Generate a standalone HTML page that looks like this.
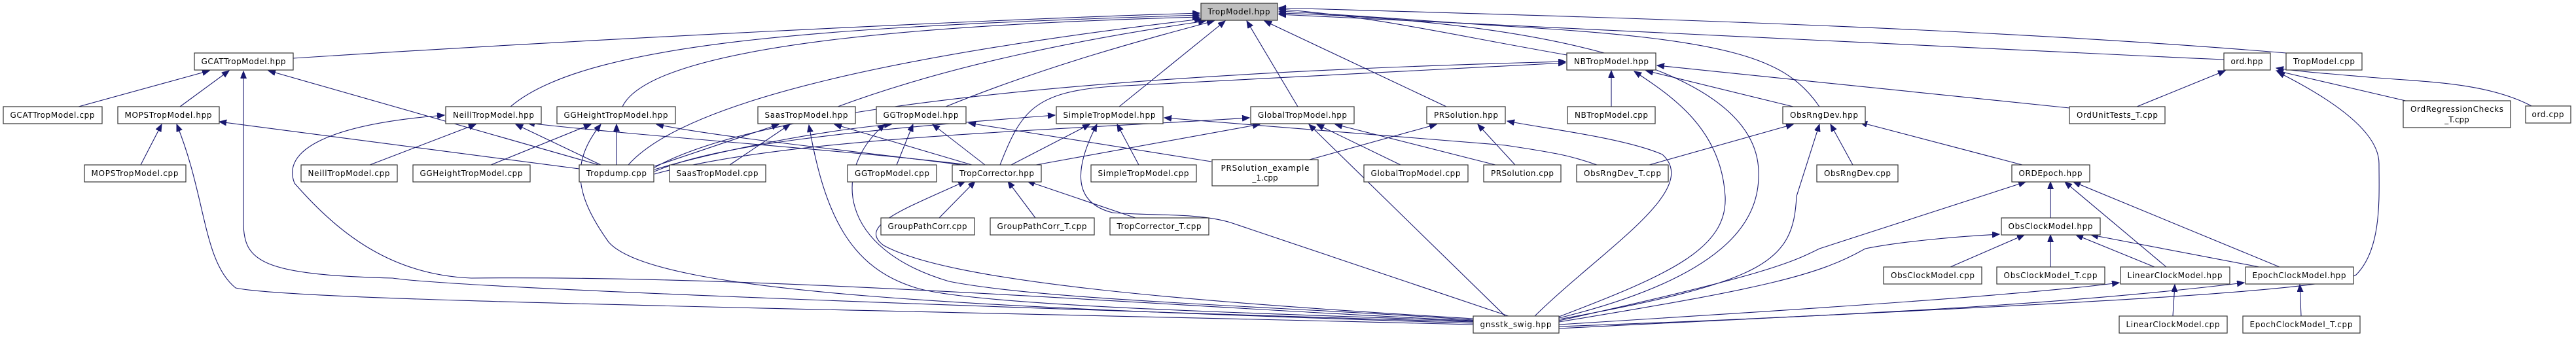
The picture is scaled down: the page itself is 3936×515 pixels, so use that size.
<!DOCTYPE html>
<html><head><meta charset="utf-8"><style>
html,body{margin:0;padding:0;background:#fff;}
svg{display:block;}
.n rect{fill:#fff;stroke:#333;stroke-width:1.2;}
.n text{font-family:"DejaVu Sans","Liberation Sans",sans-serif;font-size:12px;fill:#000;text-anchor:middle;}
.e path{fill:none;stroke:#191970;stroke-width:1.1;marker-end:url(#a);}
</style></head><body>
<svg width="3936" height="515" viewBox="0 0 3936 515" xmlns="http://www.w3.org/2000/svg">
<defs><marker id="a" markerUnits="userSpaceOnUse" markerWidth="12" markerHeight="10" refX="11" refY="4.5" orient="auto"><path d="M0,0 L11,4.5 L0,9 z" fill="#191970" stroke="#191970"/></marker></defs>
<g class="e">
<!-- to TropModel.hpp -->
<path d="M448,89 C900,60 1500,30 1833,20"/>
<path d="M780,163 C900,60 1300,40 1833,23"/>
<path d="M951,163 C1000,60 1500,35 1833,26"/>
<path d="M960,252 C1050,150 1400,80 1836,29"/>
<path d="M1280,163 C1450,100 1650,60 1842,32"/>
<path d="M1445,163 C1600,100 1750,60 1855,32"/>
<path d="M1710,163 L1872,32"/>
<path d="M1983,163 L1905,32"/>
<path d="M2210,163 L1932,32"/>
<path d="M2394,84 C2200,50 2100,25 1954,14"/>
<path d="M2780,163 C2730,90 2650,60 2300,40 C2150,30 2050,22 1954,17"/>
<path d="M2382,486 C2650,420 2690,330 2687,260 C2680,90 2300,30 1954,20"/>
<path d="M3398,91 C2900,70 2400,40 1954,22"/>
<path d="M3493,81 C3000,40 2400,25 1954,12"/>
<!-- GCAT.hpp -->
<path d="M120,163 L320,108"/>
<path d="M275,163 L350,108"/>
<path d="M915,252 L410,108"/>
<path d="M2251,492 C1500,470 700,440 600,425 C400,420 372,400 372,340 L372,109"/>
<!-- MOPS -->
<path d="M215,252 L247,190"/>
<path d="M885,258 L335,186"/>
<path d="M2251,496 C1200,470 450,460 360,440 C310,400 315,300 270,190"/>
<!-- Neill -->
<path d="M565,252 L727,190"/>
<path d="M918,252 L788,190"/>
<path d="M1480,252 C1300,230 1000,210 806,188"/>
<path d="M2251,490 C1800,470 1200,420 720,425 C600,420 520,360 450,280 C430,230 500,190 679,176"/>
<!-- GGHeight -->
<path d="M750,252 L903,190"/>
<path d="M942,252 L942,190"/>
<path d="M1470,252 C1300,230 1100,210 1003,190"/>
<path d="M2251,494 C1500,470 1000,450 930,370 C880,300 870,250 918,190"/>
<!-- Saas -->
<path d="M1115,252 L1207,190"/>
<path d="M1000,254 L1190,190"/>
<path d="M1485,252 L1275,190"/>
<path d="M2251,491 C2000,480 1500,470 1400,440 C1300,410 1260,330 1236,191"/>
<!-- GG -->
<path d="M1370,252 L1395,190"/>
<path d="M1000,259 C1100,230 1250,200 1362,190"/>
<path d="M1505,252 L1425,190"/>
<path d="M2251,489 C2000,470 1600,460 1450,430 C1280,380 1270,260 1352,190"/>
<path d="M1851,247 L1480,188"/>
<!-- Simple -->
<path d="M1740,252 L1707,190"/>
<path d="M1000,262 C1100,220 1300,200 1612,176"/>
<path d="M1545,252 L1665,190"/>
<path d="M2305,483 L1880,340 C1830,325 1760,330 1700,325 C1640,310 1640,260 1676,190"/>
<path d="M2440,252 C2400,238 2380,234 2300,222 L1779,180"/>
<!-- Global -->
<path d="M2140,252 L2012,190"/>
<path d="M1000,266 C1200,210 1600,200 1909,180"/>
<path d="M1583,252 L1925,190"/>
<path d="M2285,252 L2040,190"/>
<path d="M2300,483 L2000,190"/>
<!-- PRSolution.hpp -->
<path d="M1990,247 L2195,190"/>
<path d="M2315,252 L2258,190"/>
<path d="M2345,483 C2450,380 2600,290 2540,236 C2480,210 2350,195 2303,185"/>
<!-- NB -->
<path d="M2462,163 L2462,108"/>
<path d="M2740,163 L2515,108"/>
<path d="M3162,165 L2532,100"/>
<path d="M1000,256 C1100,200 1400,120 2392,94"/>
<path d="M1528,252 C1560,170 1580,140 1700,132 L2392,96"/>
<path d="M2382,484 C2550,420 2640,380 2636,300 C2630,200 2560,150 2497,109"/>
<!-- ObsRngDev -->
<path d="M2520,252 L2740,190"/>
<path d="M2831,252 L2797,190"/>
<path d="M3090,252 L2842,187"/>
<path d="M2382,488 C2700,430 2740,400 2745,300 L2780,190"/>
<!-- TropCorrector -->
<path d="M1435,333 L1490,277"/>
<path d="M1582,333 L1540,277"/>
<path d="M1735,333 L1570,277"/>
<path d="M2251,487 C1800,460 1450,430 1350,375 C1310,345 1380,320 1475,277"/>
<!-- ORDEpoch -->
<path d="M3133,333 L3133,278"/>
<path d="M3310,408 L3155,278"/>
<path d="M3483,408 L3168,278"/>
<path d="M2382,490 C2700,420 2740,400 2780,380 L3095,278"/>
<!-- ObsClockModel.hpp -->
<path d="M2980,408 L3093,359"/>
<path d="M3133,408 L3133,359"/>
<path d="M3292,408 L3172,359"/>
<path d="M3452,408 L3195,359"/>
<path d="M2382,492 C2700,440 2780,420 2850,380 C2900,370 2980,362 3055,358"/>
<!-- Linear/Epoch -->
<path d="M3320,483 L3323,435"/>
<path d="M2382,496 C2800,470 3100,450 3238,432"/>
<path d="M3516,483 L3514,435"/>
<path d="M2382,499 C2900,480 3200,460 3429,432"/>
<!-- ord.hpp -->
<path d="M3265,163 L3400,108"/>
<path d="M3680,155 L3478,108"/>
<path d="M3870,163 C3800,125 3700,125 3620,118 C3550,112 3500,108 3478,104"/>
<path d="M2382,502 C3000,470 3550,450 3600,420 C3640,380 3635,300 3635,250 C3635,200 3560,150 3480,110"/>
</g>
<g class="n">
<rect x="1835" y="5" width="117" height="26" style="fill:#bfbfbf"/><text x="1893" y="22" textLength="95">TropModel.hpp</text>
<rect x="297" y="81" width="151" height="26"/><text x="372" y="98" textLength="129">GCATTropModel.hpp</text>
<rect x="5" y="163" width="151" height="26"/><text x="80" y="180" textLength="129">GCATTropModel.cpp</text>
<rect x="180" y="163" width="155" height="26"/><text x="257" y="180" textLength="133">MOPSTropModel.hpp</text>
<rect x="129" y="252" width="155" height="26"/><text x="206" y="269" textLength="133">MOPSTropModel.cpp</text>
<rect x="681" y="163" width="146" height="26"/><text x="754" y="180" textLength="124">NeillTropModel.hpp</text>
<rect x="851" y="163" width="181" height="26"/><text x="941" y="180" textLength="159">GGHeightTropModel.hpp</text>
<rect x="460" y="252" width="147" height="26"/><text x="533" y="269" textLength="125">NeillTropModel.cpp</text>
<rect x="631" y="252" width="179" height="26"/><text x="720" y="269" textLength="157">GGHeightTropModel.cpp</text>
<rect x="885" y="252" width="114" height="26"/><text x="942" y="269" textLength="92">Tropdump.cpp</text>
<rect x="1158" y="163" width="149" height="26"/><text x="1232" y="180" textLength="127">SaasTropModel.hpp</text>
<rect x="1339" y="163" width="137" height="26"/><text x="1407" y="180" textLength="115">GGTropModel.hpp</text>
<rect x="1614" y="163" width="163" height="26"/><text x="1695" y="180" textLength="141">SimpleTropModel.hpp</text>
<rect x="1911" y="163" width="158" height="26"/><text x="1990" y="180" textLength="136">GlobalTropModel.hpp</text>
<rect x="1023" y="252" width="147" height="26"/><text x="1096" y="269" textLength="125">SaasTropModel.cpp</text>
<rect x="1295" y="252" width="136" height="26"/><text x="1363" y="269" textLength="114">GGTropModel.cpp</text>
<rect x="1455" y="252" width="136" height="26"/><text x="1523" y="269" textLength="114">TropCorrector.hpp</text>
<rect x="1667" y="252" width="161" height="26"/><text x="1747" y="269" textLength="139">SimpleTropModel.cpp</text>
<rect x="1852" y="244" width="162" height="40"/><text x="1933" y="261" textLength="135">PRSolution_example</text><text x="1933" y="276">_1.cpp</text>
<rect x="1346" y="333" width="143" height="26"/><text x="1417" y="350" textLength="121">GroupPathCorr.cpp</text>
<rect x="1513" y="333" width="159" height="26"/><text x="1592" y="350" textLength="137">GroupPathCorr_T.cpp</text>
<rect x="1696" y="333" width="151" height="26"/><text x="1771" y="350" textLength="129">TropCorrector_T.cpp</text>
<rect x="2394" y="81" width="136" height="26"/><text x="2462" y="98" textLength="114">NBTropModel.hpp</text>
<rect x="2180" y="163" width="120" height="26"/><text x="2240" y="180" textLength="98">PRSolution.hpp</text>
<rect x="2395" y="163" width="134" height="26"/><text x="2462" y="180" textLength="112">NBTropModel.cpp</text>
<rect x="2724" y="163" width="126" height="26"/><text x="2787" y="180" textLength="104">ObsRngDev.hpp</text>
<rect x="2084" y="252" width="159" height="26"/><text x="2163" y="269" textLength="137">GlobalTropModel.cpp</text>
<rect x="2267" y="252" width="118" height="26"/><text x="2326" y="269" textLength="96">PRSolution.cpp</text>
<rect x="2409" y="252" width="140" height="26"/><text x="2479" y="269" textLength="118">ObsRngDev_T.cpp</text>
<rect x="2776" y="252" width="124" height="26"/><text x="2838" y="269" textLength="102">ObsRngDev.cpp</text>
<rect x="2251" y="483" width="131" height="26"/><text x="2316" y="500" textLength="109">gnsstk_swig.hpp</text>
<rect x="2878" y="408" width="150" height="26"/><text x="2953" y="425" textLength="128">ObsClockModel.cpp</text>
<rect x="3398" y="81" width="71" height="26"/><text x="3433" y="98" textLength="49">ord.hpp</text>
<rect x="3493" y="81" width="116" height="26"/><text x="3551" y="98" textLength="94">TropModel.cpp</text>
<rect x="3162" y="163" width="146" height="26"/><text x="3235" y="180" textLength="124">OrdUnitTests_T.cpp</text>
<rect x="3672" y="154" width="164" height="41"/><text x="3754" y="171" textLength="142">OrdRegressionChecks</text><text x="3754" y="187">_T.cpp</text>
<rect x="3859" y="162" width="69" height="26"/><text x="3893" y="179" textLength="49">ord.cpp</text>
<rect x="3074" y="252" width="119" height="26"/><text x="3133" y="269" textLength="97">ORDEpoch.hpp</text>
<rect x="3058" y="333" width="151" height="26"/><text x="3133" y="350" textLength="129">ObsClockModel.hpp</text>
<rect x="3051" y="408" width="165" height="26"/><text x="3133" y="425" textLength="143">ObsClockModel_T.cpp</text>
<rect x="3240" y="408" width="167" height="26"/><text x="3323" y="425" textLength="145">LinearClockModel.hpp</text>
<rect x="3431" y="408" width="165" height="26"/><text x="3513" y="425" textLength="143">EpochClockModel.hpp</text>
<rect x="3238" y="483" width="165" height="26"/><text x="3320" y="500" textLength="143">LinearClockModel.cpp</text>
<rect x="3427" y="483" width="179" height="26"/><text x="3516" y="500" textLength="157">EpochClockModel_T.cpp</text>
</g>
</svg>
</body></html>
